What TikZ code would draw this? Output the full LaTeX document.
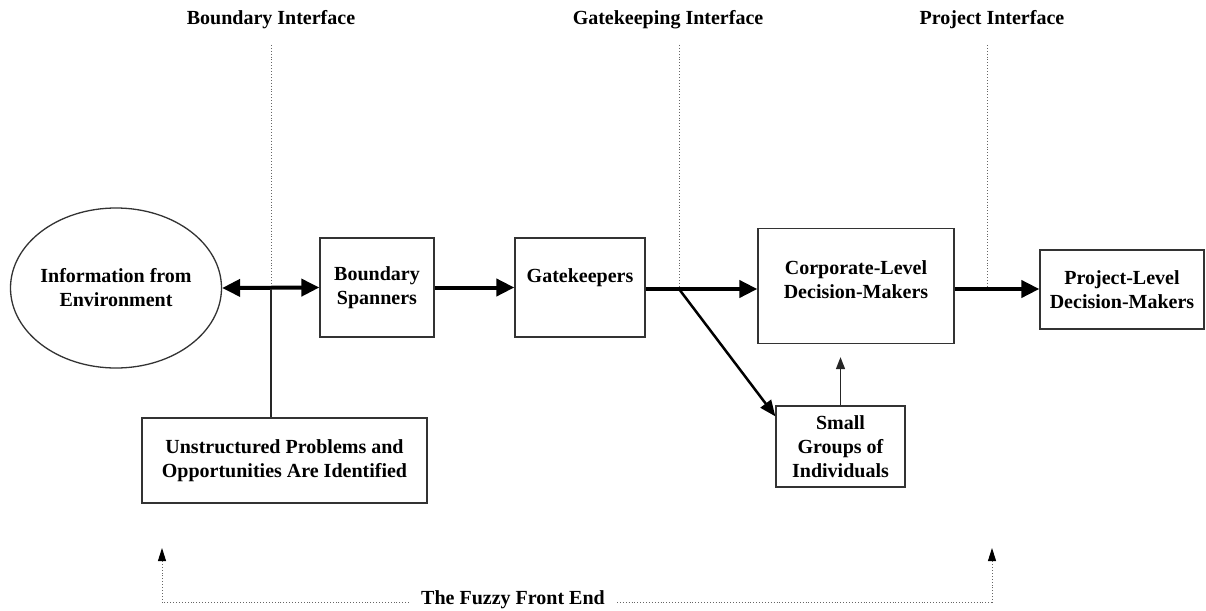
\documentclass[tikz,border=0pt]{standalone}
\usepackage{fontspec}
\setmainfont{Liberation Serif}
\usetikzlibrary{arrows.meta,shapes.geometric}

\begin{document}
\begin{tikzpicture}[x=1pt,y=-1pt,semithick,
  font=\fontsize{20}{24}\selectfont\bfseries,
  box/.style={draw=black!80,line width=1.3pt,align=center,inner sep=2pt},
  fat/.style={line width=4pt,>={Triangle[length=18pt,width=17pt]}},
  slim/.style={draw=black!85,line width=1.4pt},
  fuzzy/.style={draw=black!60,dotted,line width=0.9pt},
  uptip/.style={-{Triangle[length=13pt,width=8pt,black]}}]
\useasboundingbox (0,0) rectangle (1206,610);
% interfaces
\node (bi) at (271,20) {Boundary Interface};
\node (gi) at (668,20) {Gatekeeping Interface};
\node (pi) at (992,20) {Project Interface};
\coordinate (bt) at (271,45); \coordinate (bb) at (271,289);
\coordinate (gt) at (679,45); \coordinate (gb) at (679,289);
\coordinate (pt) at (987,45); \coordinate (pb) at (987,289);
\draw[fuzzy] (bt)--(bb) (gt)--(gb) (pt)--(pb);
% boxes
\node[ellipse,draw=black!80,line width=1.3pt,align=center,inner xsep=-12pt,inner ysep=0pt,
  minimum width=211,minimum height=160] (info) at (116,288) {Information from\\Environment};
\node[box,minimum width=114,minimum height=99] (span) at (377,287.5) {Boundary\\Spanners};
\node[box,minimum width=130,minimum height=99,text depth=24pt] (gate) at (580,287.5) {Gatekeepers};
\node[box,minimum width=196,minimum height=115] (corp) at (856,286) {};
\node[align=center] at ([yshift=6pt]corp.center) {Corporate-Level\\Decision-Makers};
\node[box,minimum width=164,minimum height=79] (proj) at (1122,289.5) {Project-Level\\Decision-Makers};
\node[box,minimum width=129,minimum height=81] (small) at (840.5,446.5) {Small\\Groups of\\Individuals};
\node[box,minimum width=285,minimum height=85] (unst) at (284.5,460.5) {Unstructured Problems and\\Opportunities Are Identified};
% connectors
\draw[fat,<->] (info.east) -- (span.west);
\draw[slim] (bb) -- (bb|-unst.north);
\draw[fat,->] (span) -- (gate);
\draw[fat,->] (gate.east|-gb) -- (corp.west|-gb);
\draw[line width=2.5pt,-{Triangle[length=16pt,width=13pt]}] (gb) -- ([yshift=-11pt]small.north west);
\draw[slim,-{Triangle[length=12pt,width=9pt]}] (small.north) -- ([yshift=-13pt]small.north|-corp.south);
\draw[fat,->] (corp.east|-gb) -- (proj.west|-gb);
% fuzzy front end
\node[inner xsep=12pt] (ffe) at (513,600) {The Fuzzy Front End};
\coordinate (fl) at (162,602); \coordinate (fr) at (992,602);
\coordinate (al) at (162,548); \coordinate (ar) at (992,548);
\draw[fuzzy,uptip] (ffe.west|-fl) -- (fl) -- (al);
\draw[fuzzy,uptip] (ffe.east|-fr) -- (fr) -- (ar);
\end{tikzpicture}
\end{document}
